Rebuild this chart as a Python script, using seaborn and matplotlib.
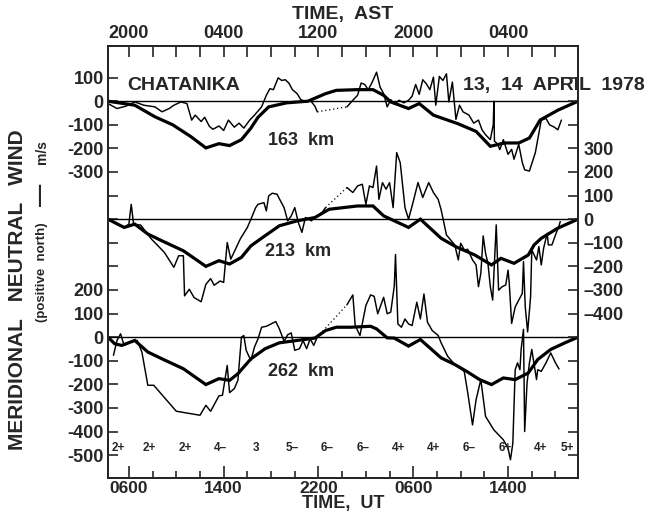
import numpy as np
import pandas as pd
import matplotlib
matplotlib.use("Agg")
import matplotlib.pyplot as plt
import seaborn as sns

nan = np.nan

# ---------------- data (UT hours from 00 UT 13 April; wind in m/s) ----------------
# 163 km
t163_model = [4.24, 6.5, 8.2, 9.7, 11.2, 12.5, 13.6, 14.5, 15.5, 16.3, 16.9, 17.8, 19.3, 21.1, 22.6, 23.5,
              25.3, 26.6, 27.5, 28.1, 29.6, 30.5, 31.7, 33.8, 35.3, 36.5, 37.7, 38.9, 39.8, 40.7, 42.2, 43.9]
v163_model = [0, -17, -66, -100, -149, -198, -180, -188, -163, -114, -68, -24, -7, 0, 32, 46,
              49, 49, 25, -3, -31, -10, -59, -96, -128, -191, -177, -177, -156, -80, -38, 0]
t163_obs = [4.24, 5.0, 5.75, 6.5, 7.26, 8.2, 8.8, 9.4, 9.8, 10.4, 10.9, 11.3, 11.6, 12.1, 12.4, 12.8, 13.1,
            13.6, 14.0, 14.4, 14.9, 15.3, 15.7, 16.2, 16.6, 17.2, 17.6, 17.9, 18.2, 18.6, 18.9, 19.2, 19.5,
            19.8, 20.2, 20.5, 21.0, 21.3, 21.7, 21.9, nan,
            24.4, 24.9, 25.3, 25.6, 25.9, 26.2, 26.5, 26.9, 27.2, 27.5, 27.8, 28.1, 28.4, 28.8, 29.2, 29.6,
            29.9, 30.2, 30.5, 30.8, 31.1, 31.4, 31.7, 31.9, 32.2, 32.5, 32.8, 33.0, 33.3, 33.6, 33.9, 34.2,
            34.7, 35.1, 35.5, 35.8, 36.1, 36.5, 36.75, 36.8, 36.85, 37.1, 37.3, 37.6, 38.0, 38.3, 38.5, 38.9,
            39.2, 39.4, 39.8, 40.3, 40.8, 41.2, 41.5, 41.9, 42.2, 42.5]
v163_obs = [-10, -31, -21, -3, -17, -24, -45, -31, -17, -3, -10, -80, -59, -86, -68, -107, -119,
            -105, -124, -80, -110, -93, -114, -80, -59, -24, 25, 53, 49, 99, 88, 91, 77,
            49, 32, 7, -3, 4, -21, -45, nan,
            -24, 4, 25, 77, 71, 49, 77, 123, 60, 32, -24, 7, -13, 4, -7, 4,
            21, 71, 29, 91, 74, 49, 102, -17, 105, 88, 116, -3, 81, -77, -17, -45,
            -59, -93, -80, -121, -142, -163, -100, 0, -170, -180, -205, -163, -225, -204, -246, -183,
            -260, -291, -296, -218, -80, -73, -100, -110, -121, -80]

# 213 km
t213_model = [4.24, 5.6, 6.5, 7.6, 8.8, 10.6, 12.5, 13.6, 14.5, 15.5, 16.3, 17.5, 18.7, 20.2, 21.7, 22.9,
              24.1, 25.3, 26.6, 27.5, 28.4, 29.6, 30.6, 32.35, 33.6, 35.2, 36.6, 37.4, 38.5, 39.7, 40.2,
              40.8, 42.2, 43.9]
v213_model = [0, -35, -21, -63, -92, -134, -200, -176, -190, -162, -113, -70, -28, -7, 7, 42,
              49, 56, 56, 14, -7, -35, 0, -81, -117, -152, -194, -166, -187, -152, -109,
              -81, -38, 0]
t213_obs = [4.24, 5.0, 5.6, 6.0, 6.2, 6.4, 7.0, 7.9, 9.0, 9.8, 10.2, 10.6, 10.7, 11.1, 11.5, 12.1, 12.5,
            12.9, 13.2, 13.7, 14.0, 14.3, 14.6, 15.0, 15.4, 16.0, 16.3, 16.7, 16.9, 17.4, 17.6, 17.8,
            18.1, 18.5, 18.8, 19.1, 19.4, 19.7, 20.0, 20.3, 20.6, 20.9, 21.4, 21.7, 22.3, 22.6, nan,
            24.4, 24.9, 25.3, 25.7, 26.0, 26.3, 26.6, 26.9, 27.1, 27.4, 27.7, 28.0, 28.3, 28.6, 28.9,
            29.3, 29.6, 29.9, 30.4, 30.8, 31.3, 31.7, 32.1, 32.35, 32.8, 33.5, 33.8, 34.0, 34.3, 34.6,
            35.0, 35.3, 35.5, 35.7, 35.9, 36.1, 36.3, 36.5, 36.7, 37.0, 37.2, 37.5, 37.8, 38.0, 38.1,
            38.3, 38.6, 38.9, 39.2, 39.3, 39.45, 39.65, 39.9, 40.0, 40.4, 40.6, 40.8, 41.0, 41.3, 41.4,
            41.7, 42.0, 42.3, 42.4]
v213_obs = [0, -21, -35, -21, 63, -21, -25, -84, -141, -204, -155, -155, -325, -297, -332, -350, -276,
            -252, -280, -262, -268, -99, -169, -127, -84, -35, 0, 49, 63, 70, 35, 99,
            110, 106, 77, 49, -7, 14, 49, -14, -56, 7, -7, 7, 28, 49, nan,
            134, 113, 141, 148, 63, 141, 134, 225, 84, 155, 127, 155, 49, 282, 239,
            49, 0, 56, 155, 92, 155, 113, 84, 40, -67, -109, -173, -102, -130, -128,
            -173, -194, -286, -230, -71, -145, -187, -286, -343, -24, -301, -286, -279, -216, -272,
            -442, -372, -343, -315, -180, -372, -478, -329, -130, -173, -116, -194, -123, -60, -109,
            -109, -67, -28, -10]

# 262 km
t262_model = [4.24, 4.8, 5.4, 6.5, 7.6, 8.8, 10.6, 12.5, 13.6, 14.5, 15.2, 16.3, 17.5, 18.7, 20.2, 21.7,
              22.6, 23.5, 24.7, 26.4, 26.9, 27.8, 28.4, 29.6, 30.6, 32.35, 33.5, 34.5, 35.6, 36.6, 37.6,
              38.6, 39.7, 40.5, 41.6, 42.8, 43.9]
v262_model = [0, -28, -35, -14, -63, -92, -134, -201, -176, -183, -155, -92, -49, -24, -14, -4,
              28, 42, 42, 46, 35, -3, -4, -38, -10, -88, -116, -145, -180, -201, -173,
              -180, -152, -95, -52, -24, 0]
t262_obs = [4.7, 5.0, 5.3, 5.6, 6.1, 6.7, 7.1, 7.6, 8.1, 10.0, 12.0, 12.5, 12.9, 13.6, 13.9, 14.3, 14.5,
            14.9, 15.2, 15.5, 15.7, 15.9, 16.3, 16.6, 16.9, 17.2, 17.6, 18.0, 18.4, 18.7, 19.1, 19.4,
            19.7, 20.0, 20.4, 20.7, 21.0, 21.3, 21.6, 21.9, nan,
            24.4, 24.9, 25.1, 25.5, 26.0, 26.4, 26.7, 27.0, 27.5, 27.8, 28.1, 28.4, 28.5, 28.7, 29.0,
            29.3, 29.6, 29.9, 30.3, 30.6, 30.9, 31.2, 31.6, 32.1, 32.35, 32.9, 33.5, 34.3, 34.6, 35.0,
            35.3, 35.7, 35.9, 36.1, 36.8, 37.6, 38.0, 38.2, 38.4, 38.6, 38.8, 39.0, 39.1, 39.3, 39.4,
            39.6, 39.8, 40.0, 40.2, 40.4, 40.5, 40.8, 41.2, 41.6, 42.0, 42.3]
v262_obs = [-77, -14, 14, -35, -21, -14, -63, -204, -204, -314, -331, -289, -314, -249, -246, -120, -235,
            -218, -183, 0, 7, -56, -99, -42, -7, 42, 46, 56, 66, 35, -18, 10,
            18, -56, -49, -14, -49, -7, -35, 0, nan,
            137, 179, 49, 7, 134, 179, 173, 99, 169, 99, 106, 218, 350, 56, 42,
            77, 56, 49, 148, 77, 183, 63, 28, 7, -24, -81, -116, -145, -237, -372,
            -265, -180, -258, -336, -393, -435, -471, -520, -450, -138, -109, -138, -52, 33, -400,
            -194, -109, -52, -116, -180, -138, -145, -109, -67, -109, -135]

altitude_labels = ["163  km", "213  km", "262  km"]
kp_labels = ["2+", "2+", "2+", "4\u2013", "3", "5\u2013", "6\u2013", "6\u2013", "4+", "4+", "6\u2013", "6+", "4+", "5+"]
ut_tick_hours = [6, 14, 22, 30, 38]
ut_tick_labels = ["0600", "1400", "2200", "0600", "1400"]
ast_tick_labels = ["2000", "0400", "1200", "2000", "0400"]
left_top_ticks = [100, 0, -100, -200, -300]
left_bottom_ticks = [200, 100, 0, -100, -200, -300, -400, -500]
right_mid_ticks = [300, 200, 100, 0, -100, -200, -300, -400]

# ---------------- layout / style ----------------
sns.set_style("ticks")
plt.rcParams["font.family"] = ["Liberation Sans", "DejaVu Sans"]
plt.rcParams["font.weight"] = "bold"

offsets = [500, 0, -500]          # vertical stacking of the three altitude panels
XLIM = (4.24, 43.9)
YLIM = (-1097, 734)

fig = plt.figure(figsize=(6.59, 5.13), dpi=100)
ax = fig.add_axes([108 / 659, 1 - 478 / 513, 470 / 659, 432 / 513])
ax.set_xlim(*XLIM)
ax.set_ylim(*YLIM)

THIN = 1.05
THICK = 2.3


def draw_obs(t, v, off):
    df = pd.DataFrame({"t": t, "v": np.asarray(v, float) + off})
    gap = df["t"].isna()
    seg_id = gap.cumsum()
    segs = [g.dropna() for _, g in df.groupby(seg_id)]
    segs = [s for s in segs if len(s)]
    for s in segs:
        sns.lineplot(data=s, x="t", y="v", ax=ax, color="black", lw=THIN,
                     sort=False, estimator=None)
    for a, b in zip(segs[:-1], segs[1:]):
        bridge = pd.DataFrame({"t": [a["t"].iloc[-1], b["t"].iloc[0]],
                               "v": [a["v"].iloc[-1], b["v"].iloc[0]]})
        sns.lineplot(data=bridge, x="t", y="v", ax=ax, color="black", lw=0.9,
                     linestyle=(0, (1, 2.2)), sort=False, estimator=None)


def draw_model(t, v, off):
    df = pd.DataFrame({"t": t, "v": np.asarray(v, float) + off})
    sns.lineplot(data=df, x="t", y="v", ax=ax, color="black", lw=THICK,
                 sort=False, estimator=None, solid_joinstyle="miter")


for off in offsets:
    ax.axhline(off, color="black", lw=1.0, zorder=1)

for (tm, vm, to, vo), off in zip(
        [(t163_model, v163_model, t163_obs, v163_obs),
         (t213_model, v213_model, t213_obs, v213_obs),
         (t262_model, v262_model, t262_obs, v262_obs)], offsets):
    draw_obs(to, vo, off)
    draw_model(tm, vm, off)

ax.set_xlabel("")
ax.set_ylabel("")

# ---------------- ticks ----------------
yt = list(range(-1000, 700, 100))
lab_left = {}
for v in left_top_ticks:
    lab_left[v + 500] = f"{v}"
for v in left_bottom_ticks:
    lab_left[v - 500] = f"{v}"
ax.set_yticks(yt)
ax.set_yticklabels([lab_left.get(v, "") for v in yt])

ax.tick_params(axis="y", direction="in", length=7, width=1.2, pad=3, labelsize=13)
for lab in ax.get_yticklabels():
    lab.set_fontweight("bold")

ax.set_xticks(ut_tick_hours)
ax.set_xticklabels(ut_tick_labels)
ax.set_xticks(np.arange(8, 44, 2), minor=True)
ax.tick_params(axis="x", which="major", direction="in", length=9, width=1.2, pad=2, labelsize=12.5)
ax.tick_params(axis="x", which="minor", direction="in", length=5, width=1.2)
for lab in ax.get_xticklabels():
    lab.set_fontweight("bold")

axr = ax.twinx()
axr.set_ylim(*YLIM)
axr.set_yticks(yt)
lab_right = {v: (f"{v}" if v >= 0 else f"\u2013{abs(v)}") for v in right_mid_ticks}
axr.set_yticklabels([lab_right.get(v, "") for v in yt])
axr.tick_params(axis="y", direction="in", length=7, width=1.2, pad=4, labelsize=13)
for lab in axr.get_yticklabels():
    lab.set_fontweight("bold")

axt = ax.twiny()
axt.set_xlim(*XLIM)
axt.set_xticks(ut_tick_hours)
axt.set_xticklabels(ast_tick_labels)
axt.set_xticks(np.arange(8, 44, 2), minor=True)
axt.tick_params(axis="x", which="both", direction="in", length=8, width=1.2, pad=3, labelsize=13)
for lab in axt.get_xticklabels():
    lab.set_fontweight("bold")

for a in (ax, axr, axt):
    for sp in a.spines.values():
        sp.set_linewidth(1.4)
        sp.set_visible(True)

# ---------------- annotations ----------------
ax.text(5.9, 565, "CHATANIKA", fontsize=14, fontweight="bold", ha="left", va="center")
ax.text(34.2, 565, "13,  14  APRIL  1978", fontsize=14, fontweight="bold", ha="left", va="center",
        clip_on=False)
for lbl, (x, y) in zip(altitude_labels, [(20.5, 332), (20.3, -139), (20.5, -647)]):
    ax.text(x, y, lbl, fontsize=13, fontweight="bold", ha="center", va="center")

for k, lbl in enumerate(kp_labels):
    x = 4.5 + 3 * k + 0.25
    x = min(max(x, 5.1), 43.0)
    ax.text(x, -969, lbl, fontsize=8.5, fontweight="bold", ha="center", va="center")

fig.text(343 / 659, 1 - 15 / 513, "TIME,  AST", fontsize=14, fontweight="bold", ha="center", va="center")
fig.text(343 / 659, 1 - 512 / 513, "TIME,  UT", fontsize=13, fontweight="bold", ha="center", va="bottom")
fig.text(18 / 659, 1 - 290 / 513, "MERIDIONAL   NEUTRAL   WIND", fontsize=15, fontweight="bold",
         rotation=90, ha="center", va="center")
fig.text(42 / 659, 1 - 272 / 513, "(positive  north)", fontsize=9.5, fontweight="bold",
         rotation=90, ha="center", va="center")
fig.text(42 / 659, 1 - 195 / 513, "\u2014", fontsize=16, fontweight="bold",
         rotation=90, ha="center", va="center")
fig.text(42 / 659, 1 - 152 / 513, "m/s", fontsize=10, fontweight="bold",
         rotation=90, ha="center", va="center")

fig.savefig("out.png", dpi=100)
